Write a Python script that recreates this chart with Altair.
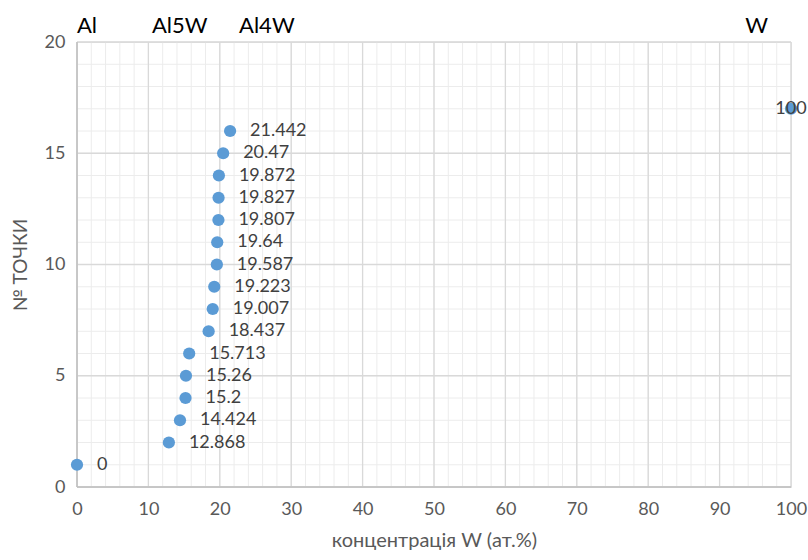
import altair as alt
import pandas as pd

point_no = list(range(1, 18))
conc_w = [0, 12.868, 14.424, 15.2, 15.26, 15.713, 18.437, 19.007, 19.223,
          19.587, 19.64, 19.807, 19.827, 19.872, 20.47, 21.442, 100]
label_txt = ["0", "12.868", "14.424", "15.2", "15.26", "15.713", "18.437", "19.007",
             "19.223", "19.587", "19.64", "19.807", "19.827", "19.872", "20.47", "21.442", "100"]

phase_names = ["Al", "Al5W", "Al4W", "W"]
phase_x = [0, 10.5, 22.7, 93.6]
phase_y = [20, 20, 20, 20]

x_minor = list(range(0, 101, 2))
x_major = list(range(0, 101, 10))
y_minor = list(range(0, 21, 1))
y_major = list(range(0, 21, 5))

FONT = "Lato"
df = pd.DataFrame({"x": conc_w, "y": point_no, "lab": label_txt})
df_main = df[df["x"] < 100]
df_last = df[df["x"] >= 100]
phases = pd.DataFrame({"name": phase_names, "x": phase_x, "y": phase_y})

xs = alt.Scale(domain=[0, 100], nice=False, zero=True)
ys = alt.Scale(domain=[0, 20], nice=False, zero=True)

gx_minor = alt.Chart(pd.DataFrame({"v": x_minor})).mark_rule(color="#ececec", strokeWidth=1).encode(
    x=alt.X("v:Q", scale=xs, title="концентрація W (ат.%)",
            axis=alt.Axis(values=x_major, grid=False, ticks=False, domain=False, labelFlush=False,
                          labelFontSize=18, labelColor="#595959", labelFont=FONT, labelPadding=13,
                          titleFont=FONT, titleFontSize=20, titleColor="#595959",
                          titleFontWeight="normal", titlePadding=12)))
gx_major = alt.Chart(pd.DataFrame({"v": x_major})).mark_rule(color="#d9d9d9", strokeWidth=1.3).encode(
    x=alt.X("v:Q", scale=xs))
gy_minor = alt.Chart(pd.DataFrame({"v": y_minor})).mark_rule(color="#ececec", strokeWidth=1).encode(
    y=alt.Y("v:Q", scale=ys, title="№ ТОЧКИ",
            axis=alt.Axis(values=y_major, grid=False, ticks=False, domain=False, labelFlush=False,
                          labelFontSize=18, labelColor="#595959", labelFont=FONT, labelPadding=12,
                          titleFont=FONT, titleFontSize=19, titleColor="#595959",
                          titleFontWeight="normal", titlePadding=14)))
gy_major = alt.Chart(pd.DataFrame({"v": y_major})).mark_rule(color="#d9d9d9", strokeWidth=1.3).encode(
    y=alt.Y("v:Q", scale=ys))

left_line = alt.Chart(pd.DataFrame({"v": [0]})).mark_rule(color="#bfbfbf", strokeWidth=1.5).encode(
    x=alt.X("v:Q", scale=xs))
bottom_line = alt.Chart(pd.DataFrame({"v": [0]})).mark_rule(color="#bfbfbf", strokeWidth=1.5).encode(
    y=alt.Y("v:Q", scale=ys))

pts = alt.Chart(df).mark_circle(size=150, color="#5B9BD5", opacity=1).encode(
    x=alt.X("x:Q", scale=xs), y=alt.Y("y:Q", scale=ys))

labels = alt.Chart(df_main).mark_text(align="left", baseline="middle", dx=20, fontSize=18,
                                      font=FONT, color="#404040").encode(
    x=alt.X("x:Q", scale=xs), y=alt.Y("y:Q", scale=ys), text="lab:N")
label_last = alt.Chart(df_last).mark_text(align="center", baseline="middle", dx=0, fontSize=18,
                                          font=FONT, color="#404040").encode(
    x=alt.X("x:Q", scale=xs), y=alt.Y("y:Q", scale=ys), text="lab:N")

phase_txt = alt.Chart(phases).mark_text(align="left", baseline="alphabetic", dy=-9, fontSize=22,
                                        font=FONT, color="#000000").encode(
    x=alt.X("x:Q", scale=xs), y=alt.Y("y:Q", scale=ys), text="name:N")

chart = alt.layer(gx_minor, gy_minor, gx_major, gy_major, left_line, bottom_line,
                  pts, labels, label_last, phase_txt).properties(
    width=714, height=445,
    autosize=alt.AutoSizeParams(type="none"),
    padding={"left": 77, "top": 42, "right": 17, "bottom": 73},
).configure_view(stroke=None).configure(background="white")

chart.save("out.html", embed_options={"renderer": "svg", "actions": False})
